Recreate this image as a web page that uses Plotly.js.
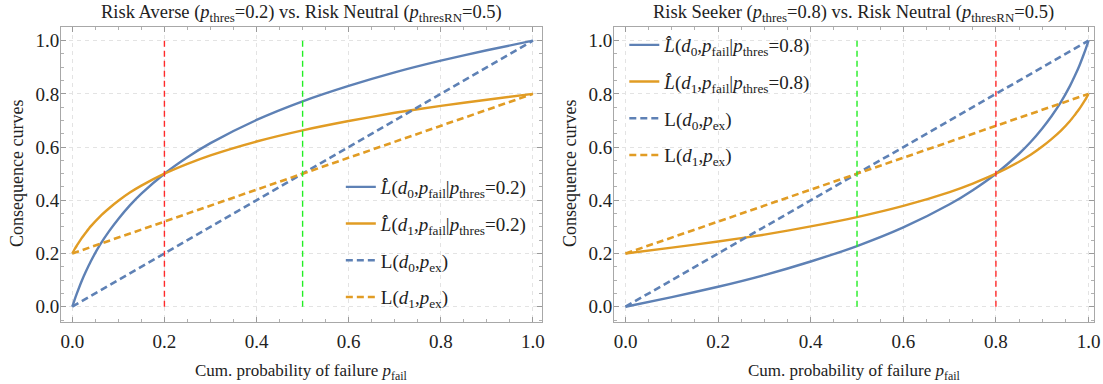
<!DOCTYPE html>
<html>
<head>
<meta charset="utf-8">
<script src="https://cdn.plot.ly/plotly-3.0.1.min.js"></script>
<style>html,body{margin:0;padding:0;background:#fff;}#chart{width:1103px;height:384px;}</style>
</head>
<body>
<div id="chart"></div>
<script>
// ---- Data ----
// Left panel: Risk Averse (p_thres = 0.2)
const xLeft = [0, 0.005, 0.01, 0.02, 0.03, 0.04, 0.06, 0.08, 0.1, 0.125, 0.15, 0.2, 0.25, 0.3, 0.4, 0.5, 0.6, 0.7, 0.8, 0.9, 1];
const lhatD0Left = [0, 0.026, 0.050, 0.095, 0.134, 0.170, 0.232, 0.284, 0.330, 0.381, 0.425, 0.500, 0.562, 0.615, 0.702, 0.772, 0.830, 0.881, 0.925, 0.964, 1.000];
const lhatD1Left = [0.2, 0.216, 0.230, 0.257, 0.280, 0.302, 0.339, 0.370, 0.398, 0.429, 0.455, 0.500, 0.537, 0.569, 0.621, 0.663, 0.698, 0.729, 0.755, 0.778, 0.8];
// Right panel: Risk Seeker (p_thres = 0.8)
const xRight = [0, 0.1, 0.2, 0.3, 0.4, 0.5, 0.6, 0.7, 0.75, 0.8, 0.85, 0.875, 0.9, 0.92, 0.94, 0.96, 0.97, 0.98, 0.99, 0.995, 1];
const lhatD0Right = [0, 0.036, 0.075, 0.119, 0.170, 0.228, 0.298, 0.385, 0.438, 0.500, 0.575, 0.619, 0.670, 0.716, 0.768, 0.830, 0.866, 0.905, 0.950, 0.974, 1.000];
const lhatD1Right = [0.2, 0.222, 0.245, 0.271, 0.302, 0.337, 0.379, 0.431, 0.463, 0.500, 0.545, 0.571, 0.602, 0.630, 0.661, 0.698, 0.720, 0.743, 0.770, 0.784, 0.8];
// Linear (expected) consequence lines
const xLin = [0, 1];
const lD0 = [0, 1];
const lD1 = [0.2, 0.8];
// Threshold markers
const vLineY = [0, 1];
const thresLeft = 0.2, thresRight = 0.8, thresNeutral = 0.5;
const yTicks = [0, 0.2, 0.4, 0.6, 0.8, 1.0];
const xTicks = [0, 0.2, 0.4, 0.6, 0.8, 1.0];

// ---- Styles ----
const BLUE = '#5e81b5', ORANGE = '#e19c24', RED = '#ff2a2a', GREEN = '#22ee22';
const FONT = 'Liberation Serif';
const SOLID_W = 2.4, DASH_W = 2.6, DASH = '7px,4px', VDASH = '6px,4px';

function lbl(d, thr) {
  return '<i>L\u0302</i>(<i>d</i><sub>' + d + '</sub>,<i>p</i><sub>fail</sub>|<i>p</i><sub>thres</sub>=' + thr + ')';
}
function lin(d) { return 'L(<i>d</i><sub>' + d + '</sub>,<i>p</i><sub>ex</sub>)'; }

const traces = [];
function panel(xa, ya, leg, xs, y0, y1, thr, thrVal) {
  traces.push({x: xs, y: y0, xaxis: xa, yaxis: ya, legend: leg, type: 'scatter', mode: 'lines', line: {color: BLUE, width: SOLID_W, shape: 'spline', smoothing: 0.6}, name: lbl(0, thr), legendgroup: leg + 'a'});
  traces.push({x: xs, y: y1, xaxis: xa, yaxis: ya, legend: leg, type: 'scatter', mode: 'lines', line: {color: ORANGE, width: SOLID_W, shape: 'spline', smoothing: 0.6}, name: lbl(1, thr), legendgroup: leg + 'b'});
  traces.push({x: xLin, y: lD0, xaxis: xa, yaxis: ya, legend: leg, type: 'scatter', mode: 'lines', line: {color: BLUE, width: DASH_W, dash: DASH}, name: lin(0), legendgroup: leg + 'c'});
  traces.push({x: xLin, y: lD1, xaxis: xa, yaxis: ya, legend: leg, type: 'scatter', mode: 'lines', line: {color: ORANGE, width: DASH_W, dash: DASH}, name: lin(1), legendgroup: leg + 'd'});
  traces.push({x: [thrVal, thrVal], y: vLineY, xaxis: xa, yaxis: ya, type: 'scatter', mode: 'lines', line: {color: RED, width: 1.4, dash: VDASH}, showlegend: false, hoverinfo: 'skip'});
  traces.push({x: [thresNeutral, thresNeutral], y: vLineY, xaxis: xa, yaxis: ya, type: 'scatter', mode: 'lines', line: {color: GREEN, width: 1.4, dash: VDASH}, showlegend: false, hoverinfo: 'skip'});
}
panel('x', 'y', 'legend', xLeft, lhatD0Left, lhatD1Left, '0.2', thresLeft);
panel('x2', 'y2', 'legend2', xRight, lhatD0Right, lhatD1Right, '0.8', thresRight);

function common() {
  return {ticks: 'inside', ticklen: 5, tickwidth: 1, tickcolor: '#9a9a9a', showline: true, linecolor: '#a8a8a8', linewidth: 1, mirror: 'allticks',
    showgrid: true, gridcolor: '#e3e3e3', griddash: '4px,4px', gridwidth: 1, zeroline: false,
    minor: {dtick: 0.05, tick0: 0, ticks: 'inside', ticklen: 3, tickcolor: '#b0b0b0', showgrid: false},
    tickfont: {family: FONT, size: 19, color: '#222'}, fixedrange: true};
}
function xaxis(domain, range, anchor) {
  return Object.assign(common(), {domain: domain, range: range, anchor: anchor, tickvals: xTicks, ticktext: xTicks.map(v => v.toFixed(1)), ticklabelstandoff: 2});
}
function yaxis(domain, range, anchor) {
  return Object.assign(common(), {domain: domain, range: range, anchor: anchor, tickvals: yTicks, ticktext: yTicks.map(v => v.toFixed(1)), ticklabelstandoff: -3});
}
const yDom = [0.1622, 0.9305];
const yRange = [-0.0564, 1.0526];
const legendCommon = {font: {family: FONT, size: 19, color: '#222'}, bgcolor: 'rgba(0,0,0,0)', borderwidth: 0, tracegroupgap: 9, itemwidth: 30, xanchor: 'left', yanchor: 'top'};

const layout = {
  width: 1103, height: 384, margin: {l: 0, r: 0, t: 0, b: 0}, paper_bgcolor: '#fff', plot_bgcolor: '#fff',
  xaxis: xaxis([0.0553, 0.4911], [-0.0245, 1.019], 'y'),
  yaxis: yaxis(yDom, yRange, 'x'),
  xaxis2: xaxis([0.5567, 0.9914], [-0.0248, 1.0108], 'y2'),
  yaxis2: yaxis(yDom, yRange, 'x2'),
  legend: Object.assign({}, legendCommon, {x: 0.309, y: 1 - 168 / 384}),
  legend2: Object.assign({}, legendCommon, {x: 0.566, y: 1 - 26 / 384}),
  showlegend: true,
  annotations: [
    {text: 'Risk Averse (<i>p</i><sub>thres</sub>=0.2) vs. Risk Neutral (<i>p</i><sub>thresRN</sub>=0.5)', xref: 'x domain', x: 0.5, yref: 'paper', y: 1 - 13.5 / 384, yanchor: 'middle', showarrow: false, font: {family: FONT, size: 18.5, color: '#222'}},
    {text: 'Risk Seeker (<i>p</i><sub>thres</sub>=0.8) vs. Risk Neutral (<i>p</i><sub>thresRN</sub>=0.5)', xref: 'x2 domain', x: 0.5, yref: 'paper', y: 1 - 13.5 / 384, yanchor: 'middle', showarrow: false, font: {family: FONT, size: 18.5, color: '#222'}},
    {text: 'Cum. probability of failure <i>p</i><sub>fail</sub>', xref: 'x domain', x: 0.5, yref: 'paper', y: 1 - 372 / 384, yanchor: 'middle', showarrow: false, font: {family: FONT, size: 17, color: '#222'}},
    {text: 'Cum. probability of failure <i>p</i><sub>fail</sub>', xref: 'x2 domain', x: 0.5, yref: 'paper', y: 1 - 372 / 384, yanchor: 'middle', showarrow: false, font: {family: FONT, size: 17, color: '#222'}},
    {text: 'Consequence curves', xref: 'paper', x: 17 / 1103, xanchor: 'center', yref: 'paper', y: 1 - 174 / 384, yanchor: 'middle', textangle: -90, showarrow: false, font: {family: FONT, size: 18, color: '#222'}},
    {text: 'Consequence curves', xref: 'paper', x: 570 / 1103, xanchor: 'center', yref: 'paper', y: 1 - 174 / 384, yanchor: 'middle', textangle: -90, showarrow: false, font: {family: FONT, size: 18, color: '#222'}}
  ]
};
Plotly.newPlot('chart', traces, layout, {displayModeBar: false, staticPlot: true});
</script>
</body>
</html>
